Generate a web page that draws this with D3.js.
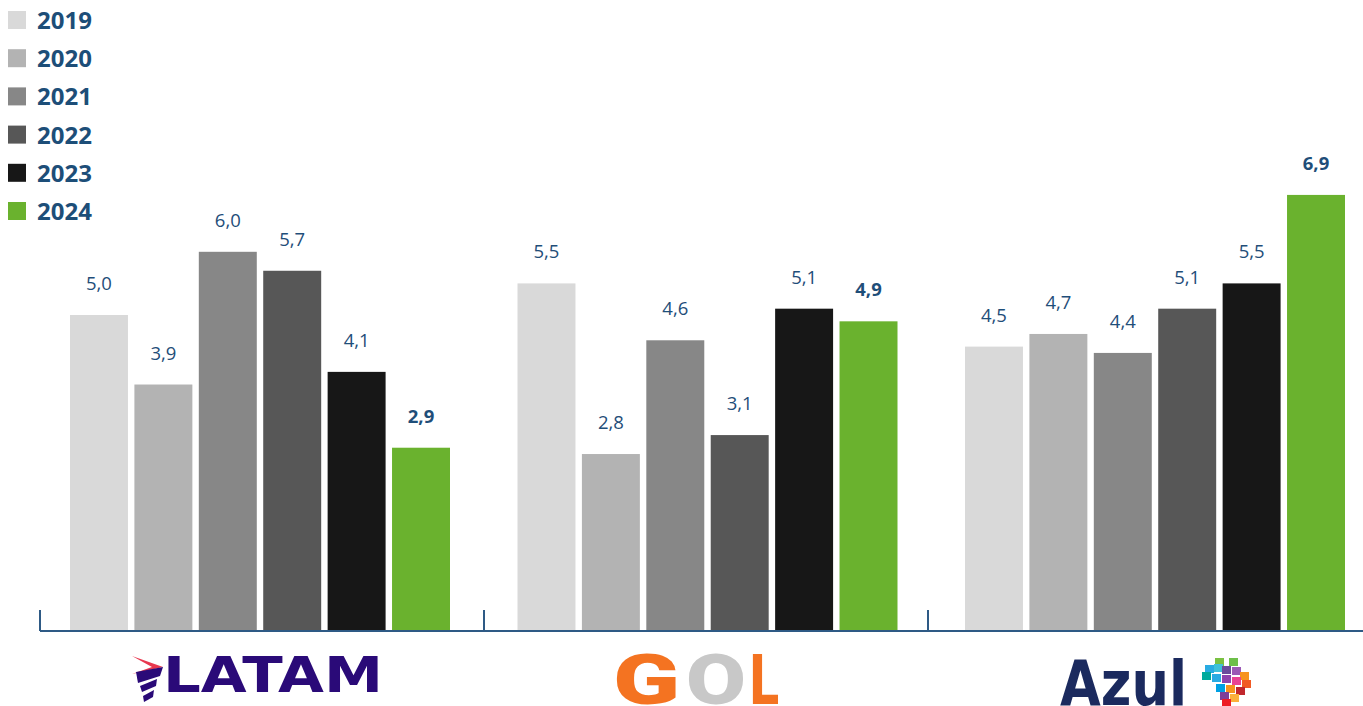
<!DOCTYPE html>
<meta charset="utf-8">
<script src="https://d3js.org/d3.v7.js"></script>
<style>
  body { margin: 0; background: #fff; }
  text { font-family: "Open Sans", sans-serif; }
</style>
<div id="my_dataviz"></div>
<script>

// data
var airlines = ["LATAM", "GOL", "Azul"];
var years = ["2019", "2020", "2021", "2022", "2023", "2024"];
var colors = ["#d9d9d9", "#b3b3b3", "#878787", "#575757", "#171717", "#6ab22e"];
var latam = [5.0, 3.9, 6.0, 5.7, 4.1, 2.9];
var gol   = [5.5, 2.8, 4.6, 3.1, 5.1, 4.9];
var azul  = [4.5, 4.7, 4.4, 5.1, 5.5, 6.9];

var values = [latam, gol, azul];
var data = [];
airlines.forEach(function(a, i) {
  years.forEach(function(y, j) {
    data.push({airline: a, year: y, value: values[i][j]});
  });
});

var width = 1363, height = 706;
var baseY = 631;

var svg = d3.select("#my_dataviz")
  .append("svg")
    .attr("width", width)
    .attr("height", height);

// scales
var xTick = d3.scaleBand()
  .domain(airlines)
  .range([40, 1372]);

var x0 = d3.scaleBand()
  .domain(airlines)
  .range([70, 70 + 3 * 447.5]);

var x1 = d3.scaleBand()
  .domain(years)
  .range([0, 380])
  .paddingInner(0.1)
  .paddingOuter(0);

var y = d3.scaleLinear()
  .domain([0, 5])
  .range([baseY, 315]);

var color = d3.scaleOrdinal(years, colors);

// bars
var groups = svg.append("g")
  .selectAll("g")
  .data(airlines)
  .enter()
  .append("g")
    .attr("transform", function(d) { return "translate(" + x0(d) + ",0)"; });

groups.selectAll("rect")
  .data(function(a) { return data.filter(function(d) { return d.airline === a; }); })
  .enter()
  .append("rect")
    .attr("x", function(d) { return x1(d.year); })
    .attr("y", function(d) { return y(d.value); })
    .attr("width", x1.bandwidth())
    .attr("height", function(d) { return baseY - y(d.value); })
    .style("fill", function(d) { return color(d.year); });

groups.selectAll("text.val")
  .data(function(a) { return data.filter(function(d) { return d.airline === a; }); })
  .enter()
  .append("text")
    .attr("class", "val")
    .attr("x", function(d) { return x1(d.year) + x1.bandwidth() / 2; })
    .attr("y", function(d) { return y(d.value) - 25; })
    .attr("text-anchor", "middle")
    .style("font-size", "18.5px")
    .style("font-weight", function(d) { return d.year === "2024" ? "bold" : "normal"; })
    .style("fill", "#1f4e79")
    .text(function(d) { return d3.format(".1f")(d.value).replace(".", ","); });

// axis
var axis = svg.append("g").style("stroke", "#2e5a85").style("stroke-width", 2);
axis.append("line")
  .attr("x1", 40).attr("x2", width)
  .attr("y1", baseY).attr("y2", baseY);
airlines.forEach(function(a) {
  axis.append("line")
    .attr("x1", xTick(a)).attr("x2", xTick(a))
    .attr("y1", baseY).attr("y2", 610);
});

// legend
var legend = svg.append("g")
  .selectAll("g")
  .data(years)
  .enter()
  .append("g")
    .attr("transform", function(d, i) { return "translate(8," + (20 + i * 38.2) + ")"; });
legend.append("rect")
  .attr("x", 0).attr("y", -9)
  .attr("width", 18).attr("height", 18)
  .style("fill", function(d) { return color(d); });
legend.append("text")
  .attr("x", 29).attr("y", 9)
  .style("font-size", "24px")
  .style("font-weight", "bold")
  .style("fill", "#1d4e78")
  .text(function(d) { return d; });

// logos (approximation)
var logos = svg.append("g");

// LATAM
var lt = logos.append("g");
lt.append("path").attr("d", "M132,656 L163,667 L132,674 L152,667 Z").style("fill", "#e8384f");
lt.append("path").attr("d", "M136,672 L163,667 L160,676 L138,683 Z").style("fill", "#2a0a78");
lt.append("path").attr("d", "M140,686 L157,679 L156,686 L142,692 Z").style("fill", "#2a0a78");
lt.append("path").attr("d", "M143,696 L154,690 L153,697 L144,702 Z").style("fill", "#2a0a78");
lt.append("text")
  .attr("x", 163).attr("y", 692)
  .attr("textLength", 220)
  .attr("lengthAdjust", "spacingAndGlyphs")
  .style("font-family", "DejaVu Sans")
  .style("font-weight", "bold")
  .style("font-size", "50px")
  .style("fill", "#2a0a78")
  .text("LATAM");

// GOL: each letter stretched to its width in the logo
var golLetters = [
  {ch: "O", x: 686, w: 60, fill: "#c8c8c8"},
  {ch: "G", x: 613, w: 67, fill: "#f47321"},
  {ch: "L", x: 750, w: 29, fill: "#f47321"}
];
golLetters.forEach(function(l) {
  var t = logos.append("text")
    .attr("x", 0).attr("y", 0)
    .style("font-family", "Roboto, sans-serif")
    .style("font-weight", "900")
    .style("font-size", "70px")
    .style("fill", l.fill)
    .text(l.ch);
  var b = t.node().getBBox();
  var sx = l.w / b.width;
  t.attr("transform", "translate(" + (l.x - b.x * sx) + ",704) scale(" + sx + ",1)");
});

// Azul
logos.append("text")
  .attr("x", 1060).attr("y", 705)
  .attr("textLength", 127)
  .attr("lengthAdjust", "spacingAndGlyphs")
  .style("font-family", "DejaVu Sans")
  .style("font-weight", "bold")
  .style("font-size", "62px")
  .style("fill", "#1b2a5e")
  .text("Azul");
var mapSq = [
  [1215,658,"#7ac142"],[1229,658,"#6dbf4a"],[1205,665,"#29abe2"],[1214,664,"#3fc1d9"],
  [1222,666,"#6a4c9c"],[1232,667,"#9b59b6"],[1240,672,"#f7931e"],[1202,672,"#00a99d"],
  [1212,674,"#29abe2"],[1222,675,"#8e44ad"],[1232,677,"#e84393"],[1242,680,"#f15a24"],
  [1216,684,"#00a0e3"],[1226,685,"#f7931e"],[1236,687,"#c1272d"],[1220,692,"#7f3f98"],
  [1230,694,"#fbb03b"],[1222,699,"#ed1c24"]
];
logos.append("g").selectAll("rect")
  .data(mapSq)
  .enter()
  .append("rect")
    .attr("x", function(d) { return d[0]; })
    .attr("y", function(d) { return d[1]; })
    .attr("width", 9).attr("height", 8)
    .style("fill", function(d) { return d[2]; });

</script>
